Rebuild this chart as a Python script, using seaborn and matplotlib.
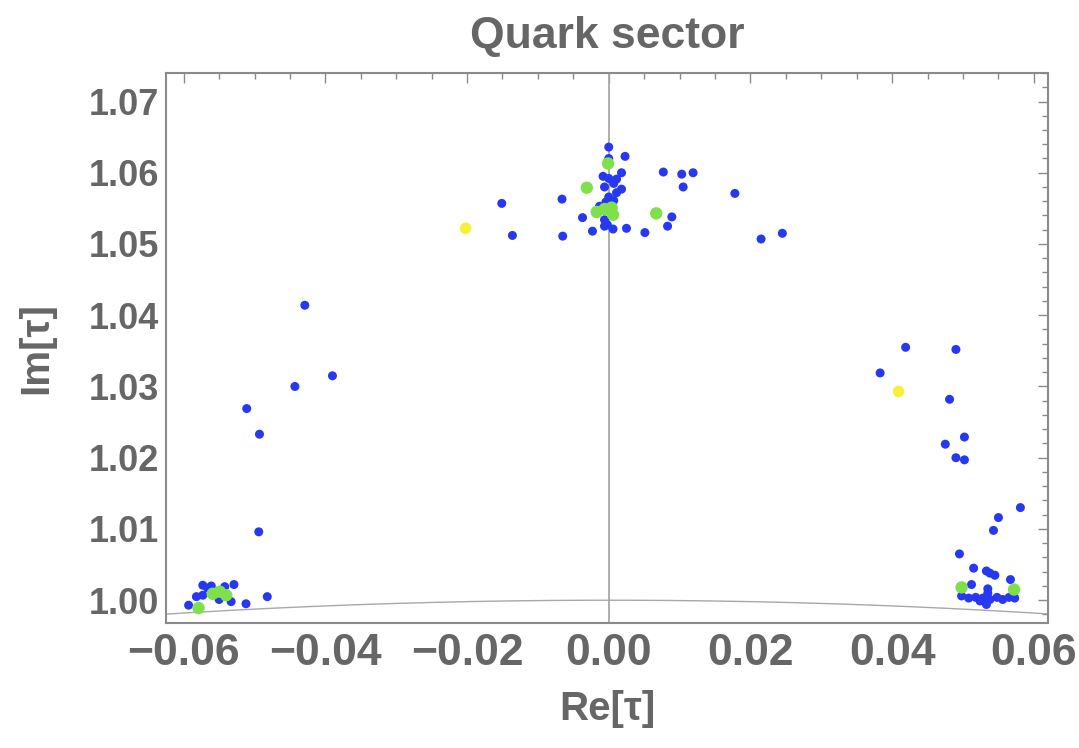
import numpy as np
import pandas as pd
import matplotlib
matplotlib.use("Agg")
import matplotlib.pyplot as plt
import seaborn as sns
from matplotlib.ticker import MultipleLocator

# Puntos azules (Re tau, Im tau)
blue_re = [0.0000, 0.0023, 0.0000, 0.0077, 0.0103, 0.0119, 0.0105, 0.0178, -0.0066,
           0.0089, 0.0083, -0.0037, -0.0023, -0.0065, 0.0025, 0.0051, 0.0006, -0.0006,
           -0.0151, -0.0136, 0.0215, 0.0245, 0.0018, 0.0018,
           -0.0008, 0.0000, 0.0011, 0.0007, -0.0006, 0.0011, 0.0000, 0.0007, -0.0004,
           -0.0013, -0.0001, -0.0006, -0.0002,
           -0.0429, -0.0390, -0.0443, -0.0511, -0.0493, -0.0494,
           -0.0573, -0.0561, -0.0529, -0.0582, -0.0573, -0.0593, -0.0550, -0.0533,
           -0.0512, -0.0482, -0.0566, -0.0542,
           0.0419, 0.0490, 0.0383, 0.0481, 0.0502, 0.0475, 0.0490, 0.0502, 0.0581,
           0.0550, 0.0543, 0.0495, 0.0515, 0.0533, 0.0538, 0.0545, 0.0567, 0.0512,
           0.0535, 0.0533, 0.0498, 0.0508, 0.0518, 0.0528, 0.0538, 0.0548, 0.0556,
           0.0565, 0.0573, 0.0535, 0.0524]
blue_im = [1.0636, 1.0623, 1.0620, 1.0601, 1.0598, 1.0600, 1.0580, 1.0571, 1.0563,
           1.0538, 1.0525, 1.0537, 1.0518, 1.0511, 1.0522, 1.0516, 1.0521, 1.0525,
           1.0557, 1.0512, 1.0507, 1.0515, 1.0600, 1.0577,
           1.0595, 1.0592, 1.0591, 1.0585, 1.0580, 1.0572, 1.0566, 1.0561, 1.0559,
           1.0553, 1.0552, 1.0534, 1.0527,
           1.0414, 1.0315, 1.0300, 1.0269, 1.0233, 1.0096,
           1.0021, 1.0020, 1.0022, 1.0005, 1.0007, 0.9993, 1.0001, 0.9998,
           0.9995, 1.0005, 1.0017, 1.0019,
           1.0355, 1.0352, 1.0319, 1.0282, 1.0229, 1.0219, 1.0200, 1.0197, 1.0130,
           1.0116, 1.0098, 1.0065, 1.0045, 1.0041, 1.0038, 1.0035, 1.0029, 1.0022,
           1.0016, 0.9994, 1.0006, 1.0003, 1.0004, 1.0003, 1.0001, 1.0004, 1.0001,
           1.0004, 1.0003, 1.0010, 0.9999]

# Puntos verdes
green_re = [-0.0001, -0.0031, 0.0067, -0.0017, -0.0006, 0.0006, 0.0004,
            -0.0579, -0.0559, -0.0549, -0.0540, 0.0498, 0.0572]
green_im = [1.0613, 1.0579, 1.0543, 1.0545, 1.0549, 1.0541, 1.0551,
            0.9989, 1.0009, 1.0012, 1.0007, 1.0018, 1.0015]

# Puntos amarillos
yellow_re = [-0.0202, 0.0409]
yellow_im = [1.0522, 1.0293]

df_blue = pd.DataFrame({'re': blue_re, 'im': blue_im})
df_green = pd.DataFrame({'re': green_re, 'im': green_im})
df_yellow = pd.DataFrame({'re': yellow_re, 'im': yellow_im})

sns.set_style('white')
plt.rcParams['font.family'] = ['Liberation Sans', 'DejaVu Sans']

grey_txt = '#666666'
grey_axis = '#8a8a8a'

fig = plt.figure(figsize=(10.79, 7.48), dpi=100)
ax = fig.add_axes([0.1538, 0.1671, 0.8175, 0.7353])

# frontera |tau| = 1
re_line = np.linspace(-0.07, 0.07, 400)
ax.plot(re_line, np.sqrt(1 - re_line**2), color='#a8a8a8', lw=1.0, zorder=1)
ax.axvline(0, color='#a8a8a8', lw=1.3, zorder=1)

sns.scatterplot(data=df_blue, x='re', y='im', color='#2638f2', s=42,
                edgecolor='none', ax=ax, zorder=3)
sns.scatterplot(data=df_green, x='re', y='im', color='#7fe14a', s=80,
                edgecolor='none', ax=ax, zorder=3)
sns.scatterplot(data=df_yellow, x='re', y='im', color='#f6ef3c', s=70,
                edgecolor='none', ax=ax, zorder=3)

ax.set_xlim(-0.0625, 0.062)
ax.set_ylim(0.9968, 1.0740)

ax.xaxis.set_major_locator(MultipleLocator(0.02))
ax.xaxis.set_minor_locator(MultipleLocator(0.005))
ax.yaxis.set_major_locator(MultipleLocator(0.01))
ax.yaxis.set_minor_locator(MultipleLocator(0.002))
ax.set_xticklabels([f'{v:.2f}'.replace('-', '\u2212') for v in ax.get_xticks()])
ax.set_yticklabels([f'{v:.2f}' for v in ax.get_yticks()])

ax.tick_params(which='both', direction='in', top=True, right=True,
               color=grey_axis, width=1.0)
ax.tick_params(which='major', length=7)
ax.tick_params(which='minor', length=4)
ax.tick_params(axis='x', which='major', labelsize=32, pad=7, labelcolor=grey_txt)
ax.tick_params(axis='y', which='major', labelsize=26, pad=5, labelcolor=grey_txt)
for lbl in ax.get_xticklabels() + ax.get_yticklabels():
    lbl.set_fontweight('bold')

for sp in ax.spines.values():
    sp.set_color(grey_axis)
    sp.set_linewidth(1.5)

ax.set_xlabel('Re[\u03c4]', fontsize=29, fontweight='bold', color=grey_txt, labelpad=12)
ax.set_ylabel('Im[\u03c4]', fontsize=29, fontweight='bold', color=grey_txt, labelpad=24)
ax.set_title('Quark sector', fontsize=32, fontweight='bold', color=grey_txt, pad=18)

plt.savefig('out.png', dpi=100)
